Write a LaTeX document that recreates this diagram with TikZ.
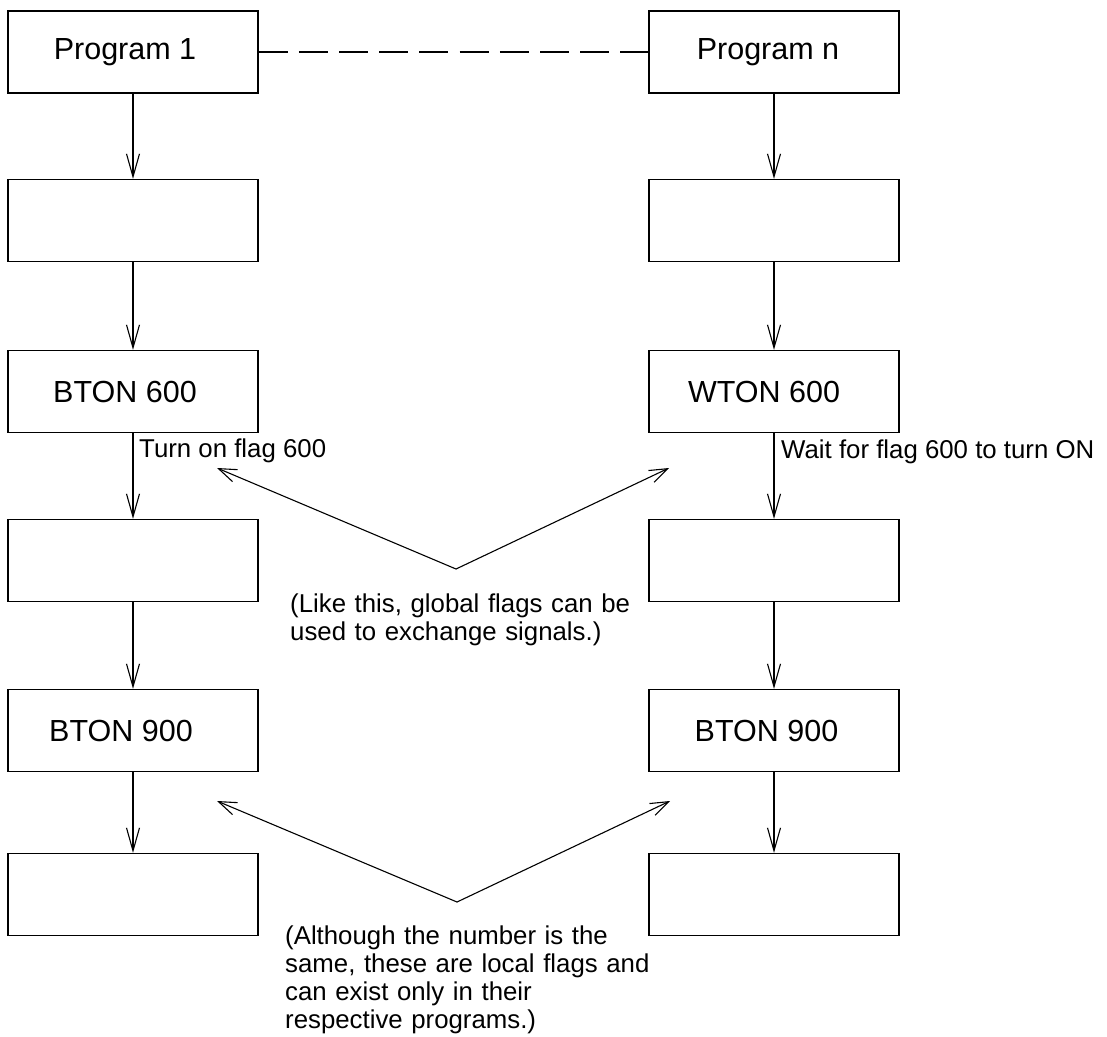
\documentclass[tikz,border=0pt]{standalone}
\usepackage{fontspec}
\setmainfont{Liberation Sans}
\usetikzlibrary{arrows.meta}
\newcommand{\tshift}{\kern-16pt}
\begin{document}
\begin{tikzpicture}[x=1pt,y=-1pt,
  box/.style={draw=black, line width=1.3pt, minimum width=250pt, minimum height=82pt, inner sep=0pt, font=\fontsize{30.5}{36}\selectfont},
  flow/.style={line width=1.1pt, -{Straight Barb[length=23pt,width=13pt]}},
  hint/.style={line width=1.1pt, -{Straight Barb[length=18pt,width=13pt]}},
  lbl/.style={inner sep=0pt, font=\fontsize{25.8}{28.3}\selectfont},
  note/.style={lbl, text width=420pt, align=left},
  link/.style={line width=2.4pt, dash pattern=on 29pt off 11.2pt},
]
\useasboundingbox (0,0) rectangle (1107,1036);

% left column
\node[box] (L1) at (133,52)    {\tshift Program 1};
\node[box] (L2) at (133,220.5) {};
\node[box] (L3) at (133,391.5) {\tshift BTON 600};
\node[box] (L4) at (133,560.5) {};
\node[box] (L5) at (133,730.5) {\kern-24pt BTON 900};
\node[box] (L6) at (133,894.5) {};

% right column
\node[box] (R1) at (774,52)    {\kern-12pt Program n};
\node[box] (R2) at (774,220.5) {};
\node[box] (R3) at (774,391.5) {\kern-20pt WTON 600};
\node[box] (R4) at (774,560.5) {};
\node[box] (R5) at (774,730.5) {\kern-15pt BTON 900};
\node[box] (R6) at (774,894.5) {};

% flow arrows
\foreach \c in {L,R}{
  \draw[flow] (\c1.south) -- (\c2.north);
  \draw[flow] (\c2.south) -- (\c3.north);
  \draw[flow] (\c3.south) -- (\c4.north);
  \draw[flow] (\c4.south) -- (\c5.north);
  \draw[flow] (\c5.south) -- (\c6.north);
}

% dashed link
\draw[link] (L1.east) -- (R1.west);

% labels
\node[lbl, anchor=base west] (t1) at (139,457) {Turn on flag 600};
\node[lbl, anchor=base west] (t2) at (781,458) {Wait for flag 600 to turn ON};

% global flag note
\coordinate (ua) at (456,569);
\coordinate (ul) at (217,468);
\coordinate (ur) at (669,468);
\draw[hint] (ua) -- (ul);
\draw[hint] (ua) -- (ur);
\node[note, anchor=base west] (n1) at (290,612)
  {(Like this, global flags can be\\used to exchange signals.)};

% local flag note
\coordinate (la) at (457,902);
\coordinate (ll) at (217,801);
\coordinate (lr) at (670,801);
\draw[hint] (la) -- (ll);
\draw[hint] (la) -- (lr);
\node[note, anchor=base west] (n2) at (285,944)
  {(Although the number is the\\same, these are local flags and\\can exist only in their\\respective programs.)};
\end{tikzpicture}
\end{document}
